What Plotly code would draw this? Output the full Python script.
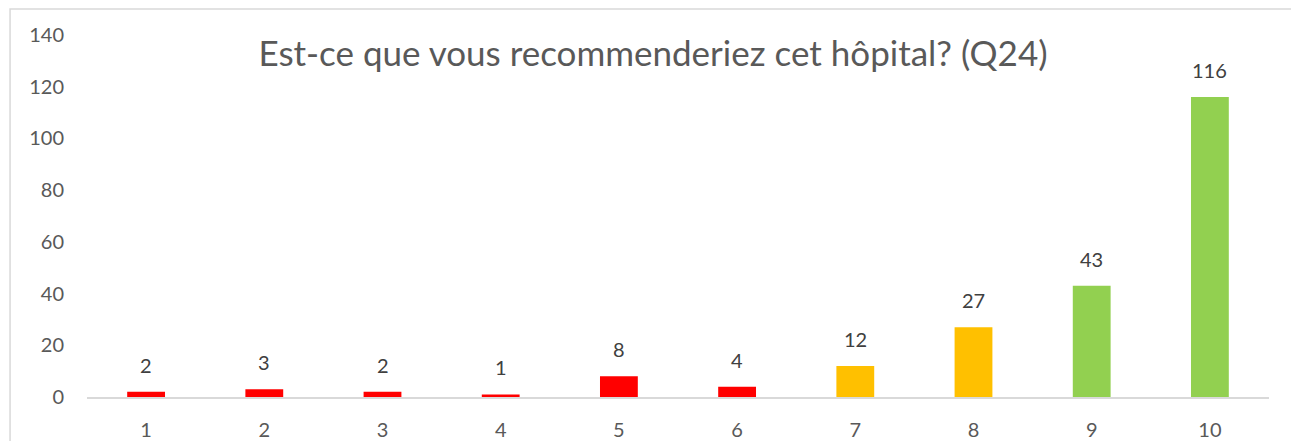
import plotly.graph_objects as go

categories = ["1", "2", "3", "4", "5", "6", "7", "8", "9", "10"]
values = [2, 3, 2, 1, 8, 4, 12, 27, 43, 116]
colors = ["#FF0000"] * 6 + ["#FFC000"] * 2 + ["#92D050"] * 2
y_ticks = [0, 20, 40, 60, 80, 100, 120, 140]
title_text = "Est-ce que vous recommenderiez cet hôpital? (Q24)"

FONT = "Lato"

fig = go.Figure()
fig.add_trace(go.Bar(
    x=categories, y=values, marker=dict(color=colors, line=dict(width=0)),
    hoverinfo="x+y",
))

for i, v in enumerate(values):
    fig.add_annotation(x=i, y=v, text=str(v), showarrow=False,
                       yanchor="bottom", yshift=13,
                       font=dict(family=FONT, size=20, color="#404040"))

fig.add_shape(type="rect", xref="paper", yref="paper",
              x0=-0.0651, x1=1.05, y0=-0.3, y1=1.0718,
              line=dict(color="#D9D9D9", width=1.5), fillcolor="rgba(0,0,0,0)",
              layer="below")

fig.update_layout(
    width=1291, height=441,
    margin=dict(l=87, r=22, t=35, b=44, autoexpand=False),
    paper_bgcolor="white", plot_bgcolor="white",
    bargap=0.68,
    showlegend=False,
    title=dict(text=title_text, x=653 / 1291, xanchor="center", xref="container",
               y=1 - 54 / 441, yanchor="middle", yref="container",
               font=dict(family=FONT, size=35, color="#595959")),
    font=dict(family=FONT, color="#595959"),
)
fig.update_yaxes(range=[0, 140], tickvals=y_ticks, showgrid=False, zeroline=False,
                 showline=False, ticks="", ticklabelstandoff=22, automargin=False,
                 tickfont=dict(family=FONT, size=20, color="#595959"))
fig.update_xaxes(type="category", showgrid=False, showline=True, linecolor="#D9D9D9",
                 linewidth=1.5, ticks="", ticklabelstandoff=14, automargin=False,
                 tickfont=dict(family=FONT, size=20, color="#595959"))

fig.write_html("out.html", config={"displayModeBar": False},
               post_script="document.body.style.margin='0px';")
